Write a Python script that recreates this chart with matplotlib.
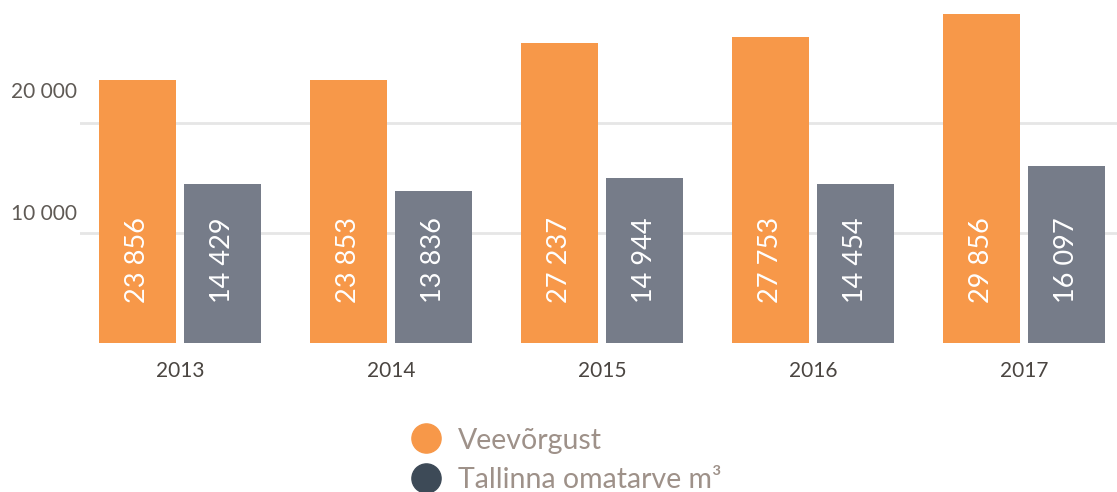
import matplotlib
matplotlib.use("Agg")
import matplotlib.pyplot as plt
import numpy as np

plt.rcParams['font.family'] = ['Lato', 'DejaVu Sans']

years = ["2013", "2014", "2015", "2016", "2017"]
veevorgust = [23856, 23853, 27237, 27753, 29856]
omatarve = [14429, 13836, 14944, 14454, 16097]
series_names = ["Veevõrgust", "Tallinna omatarve m³"]
bar_colors = ["#f79849", "#767c89"]
legend_colors = ["#f79849", "#3d4a57"]
y_ticks = [10000, 20000]
y_label_lift = [12, 24]  # pixels between gridline and its label

W, H = 1117, 492
fig = plt.figure(figsize=(W / 100, H / 100), dpi=100)
# plot area in pixels: x 80..1117, y 0..343 from top
ax = fig.add_axes([80 / W, (H - 343) / H, (W - 80) / W, 343 / H])

def fmt(v):
    return f"{v:,}".replace(",", " ")

x = np.arange(len(years))
bw = 77 / 211
off = 0.2025
ax.bar(x - off, veevorgust, width=bw, color=bar_colors[0], zorder=2)
ax.bar(x + off, omatarve, width=bw, color=bar_colors[1], zorder=2)

ax.set_xlim(-100 / 211, (W - 180) / 211)
ax.set_ylim(0, 31125)

for yt, lift in zip(y_ticks, y_label_lift):
    ax.axhline(yt, color="#e6e6e6", lw=2, zorder=1)
    ax.annotate(fmt(yt), xy=(0, yt), xycoords=("axes fraction", "data"),
                xytext=(-3, lift - 3), textcoords="offset pixels",
                ha="right", va="bottom", fontsize=15, color="#5f5a55")

label_y = 3630
for xi, v1, v2 in zip(x, veevorgust, omatarve):
    for dx, v in ((-off, v1), (off, v2)):
        ax.text(xi + dx, label_y, fmt(v), rotation=90, ha="center", va="bottom",
                fontsize=19.5, color="white", zorder=3)

ax.set_xticks(x)
ax.set_xticklabels(years, fontsize=15, color="#4a4541")
ax.tick_params(axis="x", length=0, pad=13)
ax.set_yticks([])
for s in ax.spines.values():
    s.set_visible(False)

# legend drawn on a full-figure overlay in pixel coordinates
lg = fig.add_axes([0, 0, 1, 1], facecolor="none")
lg.set_xlim(0, W)
lg.set_ylim(H, 0)
lg.axis("off")
for i, (name, c) in enumerate(zip(series_names, legend_colors)):
    cy = 438 + 40 * i
    lg.plot([426], [cy], marker="o", markersize=21, color=c, linestyle="")
    lg.text(458, cy, name, ha="left", va="center_baseline", fontsize=20.5,
            color="#9e9189")

fig.savefig("out.png", dpi=100, facecolor="white")
